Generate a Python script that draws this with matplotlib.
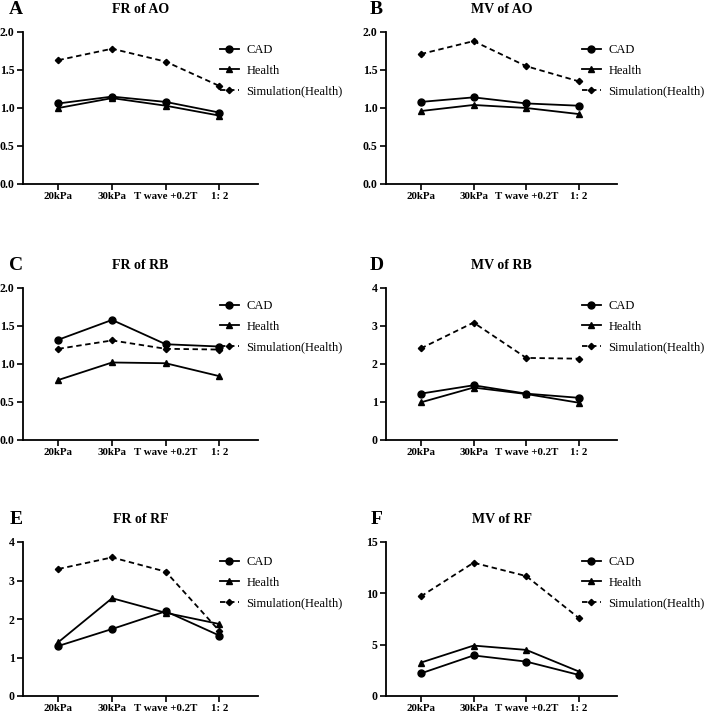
import matplotlib
matplotlib.use("Agg")
import matplotlib.pyplot as plt
from matplotlib.ticker import FormatStrFormatter

plt.rcParams["font.family"] = ["Liberation Serif", "DejaVu Serif"]

categories = ["20kPa", "30kPa", "T wave +0.2T", "1: 2"]

# panel A - FR of AO
fr_ao_cad = [1.06, 1.15, 1.08, 0.94]
fr_ao_health = [1.00, 1.13, 1.03, 0.90]
fr_ao_sim = [1.63, 1.78, 1.61, 1.29]

# panel B - MV of AO
mv_ao_cad = [1.08, 1.14, 1.06, 1.03]
mv_ao_health = [0.96, 1.04, 1.00, 0.92]
mv_ao_sim = [1.71, 1.88, 1.55, 1.35]

# panel C - FR of RB
fr_rb_cad = [1.32, 1.58, 1.26, 1.23]
fr_rb_health = [0.79, 1.02, 1.01, 0.84]
fr_rb_sim = [1.20, 1.31, 1.20, 1.19]

# panel D - MV of RB
mv_rb_cad = [1.22, 1.44, 1.22, 1.11]
mv_rb_health = [0.99, 1.38, 1.21, 0.98]
mv_rb_sim = [2.41, 3.09, 2.16, 2.14]

# panel E - FR of RF
fr_rf_cad = [1.30, 1.74, 2.20, 1.57]
fr_rf_health = [1.40, 2.54, 2.16, 1.87]
fr_rf_sim = [3.30, 3.60, 3.23, 1.69]

# panel F - MV of RF
mv_rf_cad = [2.2, 3.95, 3.35, 2.05]
mv_rf_health = [3.25, 4.91, 4.49, 2.38]
mv_rf_sim = [9.70, 12.98, 11.68, 7.58]

panels = [
    ("A", "FR of AO", fr_ao_cad, fr_ao_health, fr_ao_sim, 2.0, [0, 0.5, 1.0, 1.5, 2.0], "%.1f"),
    ("B", "MV of AO", mv_ao_cad, mv_ao_health, mv_ao_sim, 2.0, [0, 0.5, 1.0, 1.5, 2.0], "%.1f"),
    ("C", "FR of RB", fr_rb_cad, fr_rb_health, fr_rb_sim, 2.0, [0, 0.5, 1.0, 1.5, 2.0], "%.1f"),
    ("D", "MV of RB", mv_rb_cad, mv_rb_health, mv_rb_sim, 4, [0, 1, 2, 3, 4], "%d"),
    ("E", "FR of RF", fr_rf_cad, fr_rf_health, fr_rf_sim, 4, [0, 1, 2, 3, 4], "%d"),
    ("F", "MV of RF", mv_rf_cad, mv_rf_health, mv_rf_sim, 15, [0, 5, 10, 15], "%d"),
]

W, H = 708, 714
fig = plt.figure(figsize=(W / 100, H / 100), dpi=100)

# axes boxes in pixels: (left, right) / (top, bottom)
col_x = [(23, 258), (386, 617)]
row_y = [(32, 184), (288, 440), (542, 696)]
legend_x = [223, 585]
legend_y = [48, 304, 560]

x = list(range(len(categories)))

for i, (letter, title, cad, health, sim, ymax, yticks, fmt) in enumerate(panels):
    r, c = divmod(i, 2)
    x0, x1 = col_x[c]
    y0, y1 = row_y[r]
    ax = fig.add_axes([x0 / W, 1 - y1 / H, (x1 - x0) / W, (y1 - y0) / H])

    ax.plot(x, cad, color="black", lw=1.3, marker="o", ms=5, label="CAD")
    ax.plot(x, health, color="black", lw=1.3, marker="^", ms=5, label="Health")
    ax.plot(x, sim, color="black", lw=1.3, ls=(0, (3, 2)), marker="D", ms=3.2,
            label="Simulation(Health)")

    ax.set_xlim(-0.66, 3.72)
    ax.set_ylim(0, ymax)
    ax.set_xticks(x)
    ax.set_xticklabels(categories, fontweight="bold", fontsize=7.8)
    ax.set_yticks(yticks)
    ax.yaxis.set_major_formatter(FormatStrFormatter(fmt))
    for lab in ax.get_yticklabels():
        lab.set_fontweight("bold")
        lab.set_fontsize(8.5)
    ax.tick_params(length=4, width=1.2, pad=2)
    for s in ["top", "right"]:
        ax.spines[s].set_visible(False)
    for s in ["left", "bottom"]:
        ax.spines[s].set_linewidth(1.3)

    ax.annotate(title, xy=(0.5, 1), xycoords="axes fraction", xytext=(0, 16.5),
                textcoords="offset points", ha="center", va="center",
                fontsize=10, fontweight="bold")
    ax.annotate(letter, xy=(0, 1), xycoords="axes fraction", xytext=(-5 if c == 0 else -7, 16.5),
                textcoords="offset points", ha="center", va="center",
                fontsize=14, fontweight="bold")

    lx = legend_x[c]
    ly = legend_y[r]
    ax.legend(loc="upper left", bbox_to_anchor=((lx - 8) / W, 1 - (ly - 9) / H),
              bbox_transform=fig.transFigure, frameon=False, fontsize=9,
              handlelength=1.5, handletextpad=0.6, labelspacing=0.68, borderaxespad=0)

fig.savefig("out.png", dpi=100)
